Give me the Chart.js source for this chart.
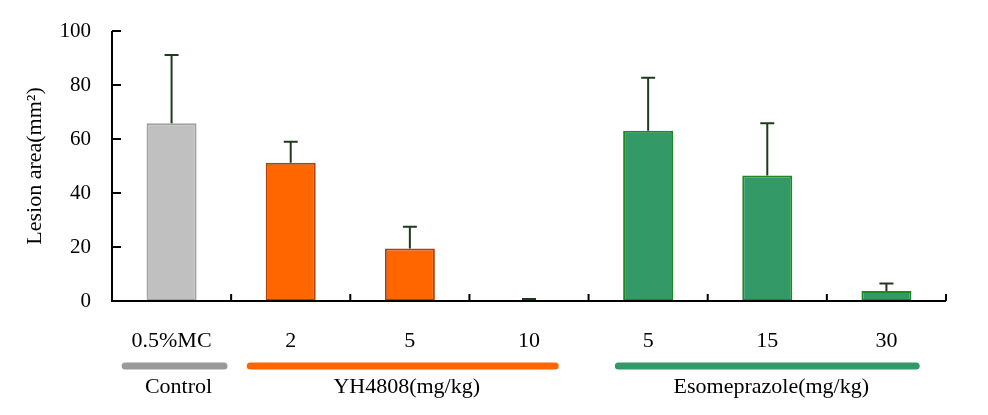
<!DOCTYPE html>
<html>
<head>
<meta charset="utf-8">
<script src="https://cdn.jsdelivr.net/npm/chart.js@4"></script>
<style>
  html, body { margin: 0; padding: 0; background: #fff; }
  #wrap { width: 988px; height: 415px; }
</style>
</head>
<body>
<div id="wrap"><canvas id="lesionChart"></canvas></div>
<script>
const doseLabels = ["0.5%MC", "2", "5", "10", "5", "15", "30"];
const lesionMeans = [65.8, 51.2, 19.4, 0.2, 63.1, 46.5, 3.7];
const lesionErrors = [25.3, 7.8, 8.1, 0.5, 19.6, 19.3, 2.8];
const yTicks = [0, 20, 40, 60, 80, 100];

const groupNames = ["Control", "YH4808(mg/kg)", "Esomeprazole(mg/kg)"];
const groupFirst = [0, 1, 4];
const groupLast = [0, 3, 6];

const barFill = ["#c0c0c0", "#ff6600", "#ff6600", "#ff6600", "#339966", "#339966", "#339966"];
const barEdge = ["#a0a0a0", "#b0400c", "#b0400c", "#1a5c1a", "#1a8a22", "#1a8a22", "#1a8a22"];
const groupColors = ["#999999", "#ff6600", "#339966"];
// how far each group line reaches past its first / last bar centre, in category widths
const groupPadLeft = [0.39, 0.34, 0.25];
const groupPadRight = [0.44, 0.22, 0.25];

const serif = "'Liberation Serif', 'Times New Roman', serif";

const plotLeft = 112;
const plotTop = 31;
const plotBottom = 301;

// error bars, axes with inward ticks, group bars underneath
const extrasPlugin = {
  id: "extras",
  afterDatasetsDraw(chart) {
    const ctx = chart.ctx;
    const xs = chart.scales.x;
    const ys = chart.scales.y;
    const area = chart.chartArea;

    ctx.save();
    ctx.strokeStyle = "#1f3a1f";
    ctx.lineWidth = 2;
    lesionMeans.forEach((mean, i) => {
      if (!lesionErrors[i]) return;
      const x = xs.getPixelForValue(i);
      const y0 = ys.getPixelForValue(mean);
      const y1 = ys.getPixelForValue(mean + lesionErrors[i]);
      ctx.beginPath();
      ctx.moveTo(x, y0);
      ctx.lineTo(x, y1);
      ctx.moveTo(x - 7, y1);
      ctx.lineTo(x + 7, y1);
      ctx.stroke();
    });

    // axes
    ctx.strokeStyle = "#000";
    ctx.lineWidth = 2;
    ctx.beginPath();
    ctx.moveTo(area.left, area.top);
    ctx.lineTo(area.left, area.bottom);
    ctx.lineTo(area.right, area.bottom);
    ctx.stroke();

    ctx.beginPath();
    yTicks.forEach((t) => {
      const y = ys.getPixelForValue(t);
      ctx.moveTo(area.left, y);
      ctx.lineTo(area.left + 9, y);
    });
    const step = (area.right - area.left) / doseLabels.length;
    for (let i = 1; i <= doseLabels.length; i++) {
      const x = area.left + step * i;
      ctx.moveTo(x, area.bottom);
      ctx.lineTo(x, area.bottom - 7);
    }
    ctx.stroke();

    // group bars and names
    const lineY = 366;
    ctx.lineCap = "round";
    ctx.lineWidth = 7;
    ctx.font = "22px " + serif;
    ctx.textAlign = "center";
    ctx.textBaseline = "middle";
    groupNames.forEach((name, g) => {
      const x0 = xs.getPixelForValue(groupFirst[g]) - groupPadLeft[g] * step;
      const x1 = xs.getPixelForValue(groupLast[g]) + groupPadRight[g] * step;
      ctx.strokeStyle = groupColors[g];
      ctx.beginPath();
      ctx.moveTo(x0, lineY);
      ctx.lineTo(x1, lineY);
      ctx.stroke();
      ctx.fillStyle = "#000";
      ctx.fillText(name, (x0 + x1) / 2 + 4, 387);
    });
    ctx.restore();
  },
};

new Chart(document.getElementById("lesionChart"), {
  type: "bar",
  data: {
    labels: doseLabels,
    datasets: [
      {
        data: lesionMeans,
        backgroundColor: barFill,
        borderColor: barEdge,
        borderWidth: 2,
        borderSkipped: false,
        categoryPercentage: 1,
        barPercentage: 0.42,
      },
    ],
  },
  options: {
    responsive: true,
    maintainAspectRatio: false,
    animation: false,
    layout: { padding: { left: 0, top: plotTop, right: 42, bottom: 0 } },
    plugins: { legend: { display: false }, tooltip: { enabled: false } },
    scales: {
      x: {
        grid: { display: false },
        border: { display: false },
        ticks: {
          color: "#000",
          font: { family: serif, size: 22 },
          padding: 19,
          maxRotation: 0,
        },
        afterFit(scale) {
          scale.height = 415 - plotBottom;
        },
      },
      y: {
        min: 0,
        max: 100,
        grid: { display: false },
        border: { display: false },
        afterBuildTicks(scale) {
          scale.ticks = yTicks.map((v) => ({ value: v }));
        },
        ticks: {
          color: "#000",
          font: { family: serif, size: 21 },
          padding: 13,
        },
        title: {
          display: true,
          text: "Lesion area(mm²)",
          color: "#000",
          font: { family: serif, size: 22 },
          padding: { top: 22, bottom: 0 },
        },
        afterFit(scale) {
          scale.width = plotLeft;
        },
      },
    },
  },
  plugins: [extrasPlugin],
});
</script>
</body>
</html>
